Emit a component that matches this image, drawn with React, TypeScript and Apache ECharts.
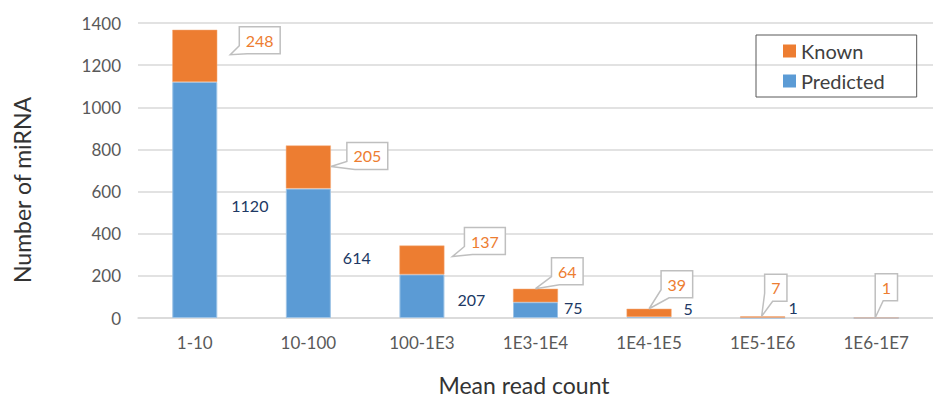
import React, { useEffect, useRef } from "react";
import * as echarts from "echarts";

const categories = ["1-10", "10-100", "100-1E3", "1E3-1E4", "1E4-1E5", "1E5-1E6", "1E6-1E7"];
const predicted = [1120, 614, 207, 75, 5, 1, 0];
const known = [248, 205, 137, 64, 39, 7, 1];
const yTicks = { min: 0, max: 1400, interval: 200 };

// style: manual label placements (pixels), not data
const predLabelShift: (number[] | null)[] = [[14, 5], [12, 4], [13, 3], [6, -3], [12, -9], [3, -10], null];
// [tip dx from category center, tip dy from stack top, box-left dx from tip, box-top dy from tip]
const calloutShift = [
  [35.5, 25, 9, -28],
  [22.5, 21, 16, -24],
  [30.5, 11, 12, -29],
  [0, 0, 16, -31],
  [0, 0, 12, -38],
  [-1, 0, 3, -42],
  [-1, 0, 0, -44],
];

const FONT = "Lato";
const BLUE = "#5B9BD5";
const ORANGE = "#ED7D31";

export default function App() {
  const ref = useRef<HTMLDivElement>(null);
  useEffect(() => {
    if (!ref.current) return;
    const chart = echarts.init(ref.current, null, { renderer: "svg" });
    const totals = predicted.map((p, i) => p + known[i]);
    const option: any = {
      animation: false,
      backgroundColor: "#fff",
      textStyle: { fontFamily: FONT },
      grid: { left: 138, top: 23, width: 805, height: 295, containLabel: false },
      legend: {
        data: ["Known", "Predicted"],
        orient: "vertical",
        left: 756,
        top: 35,
        borderColor: "#595959",
        borderWidth: 1,
        padding: [6, 32, 6, 27],
        itemWidth: 13,
        itemHeight: 13,
        itemGap: 10,
        icon: "rect",
        itemStyle: { borderWidth: 0 },
        textStyle: { fontSize: 20, color: "#404040", fontFamily: FONT, lineHeight: 20 },
      },
      xAxis: {
        type: "category",
        data: categories,
        axisLine: { lineStyle: { color: "#D9D9D9", width: 1.5 } },
        axisTick: { show: false },
        axisLabel: { fontSize: 17, color: "#595959", margin: 16, fontFamily: FONT, interval: 0 },
      },
      yAxis: {
        type: "value",
        min: yTicks.min,
        max: yTicks.max,
        interval: yTicks.interval,
        axisLine: { show: false },
        axisTick: { show: false },
        splitLine: { lineStyle: { color: "#D9D9D9", width: 1.5 } },
        axisLabel: {
          fontSize: 17,
          color: "#595959",
          margin: 17,
          fontFamily: FONT,
          formatter: (v: number) => String(v),
        },
      },
      graphic: [
        {
          type: "text",
          x: 22,
          y: 190,
          rotation: Math.PI / 2,
          style: {
            text: "Number of miRNA",
            fontSize: 23,
            fontFamily: FONT,
            fill: "#333",
            align: "center",
            verticalAlign: "middle",
          },
        },
        {
          type: "text",
          x: 524,
          y: 385,
          style: {
            text: "Mean read count",
            fontSize: 23,
            fontFamily: FONT,
            fill: "#333",
            align: "center",
            verticalAlign: "middle",
          },
        },
      ],
      series: [
        {
          name: "Predicted",
          type: "bar",
          stack: "a",
          barWidth: 45,
          itemStyle: { color: BLUE, borderColor: "#9DC3E6", borderWidth: 1 },
          data: predicted.map((v, i) => {
            const s = predLabelShift[i];
            return {
              value: v,
              label: s
                ? {
                    show: true,
                    position: "right",
                    distance: 0,
                    offset: s,
                    color: "#203864",
                    fontSize: 16,
                    fontFamily: FONT,
                  }
                : { show: false },
            };
          }),
        },
        {
          name: "Known",
          type: "bar",
          stack: "a",
          barWidth: 45,
          itemStyle: { color: ORANGE, borderColor: "#F4B183", borderWidth: 0.5 },
          data: known,
        },
        {
          name: "KnownCallout",
          type: "custom",
          coordinateSystem: "cartesian2d",
          clip: false,
          z: 10,
          silent: true,
          data: known.map((k, i) => [i, totals[i], k]),
          renderItem: (params: any, api: any) => {
            const i = api.value(0);
            const total = api.value(1);
            const k = api.value(2);
            const base = api.coord([i, total]);
            const sh = calloutShift[i];
            const tx = base[0] + sh[0];
            const ty = base[1] + sh[1];
            const left = tx + sh[2];
            const top = ty + sh[3];
            const txt = String(k);
            const w = txt.length * 9.3 + 13;
            const h = 27;
            const right = left + w;
            const bottom = top + h;
            const points = [
              [left, top],
              [right, top],
              [right, bottom],
              [left + 8, bottom],
              [tx, ty],
              [left, bottom - 8],
            ];
            return {
              type: "group",
              children: [
                {
                  type: "polygon",
                  shape: { points },
                  style: { fill: "#fff", stroke: "#BFBFBF", lineWidth: 1.5 },
                },
                {
                  type: "text",
                  style: {
                    text: txt,
                    x: (left + right) / 2,
                    y: (top + bottom) / 2,
                    align: "center",
                    verticalAlign: "middle",
                    fill: ORANGE,
                    fontSize: 16,
                    fontFamily: FONT,
                  },
                },
              ],
            };
          },
        },
      ],
    };
    chart.setOption(option);
    return () => chart.dispose();
  }, []);
  return (
    <div
      ref={ref}
      style={{ position: "fixed", left: 0, top: 0, width: 933, height: 400, background: "#fff" }}
    />
  );
}
